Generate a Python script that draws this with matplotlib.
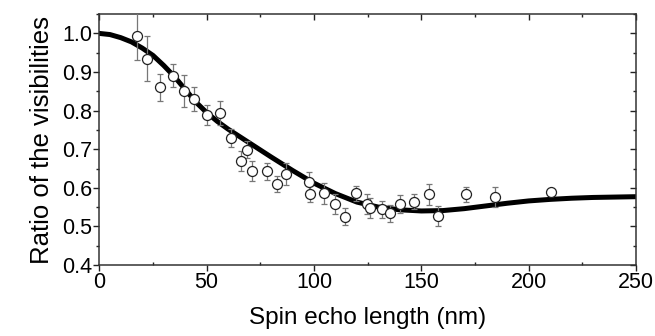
import matplotlib
matplotlib.use("Agg")
import matplotlib.pyplot as plt
from matplotlib.ticker import MultipleLocator

plt.rcParams['font.family'] = ['Liberation Sans', 'DejaVu Sans']

# measured data
spin_echo = [17.4, 22.3, 28.1, 34.3, 39.3, 44.1, 50.0, 56.0, 61.5, 65.8, 68.6,
             71.2, 77.9, 82.6, 86.9, 97.8, 98.1, 104.8, 109.7, 114.4, 119.8,
             124.8, 126.0, 131.5, 135.3, 140.3, 146.5, 153.8, 157.7, 170.6,
             184.4, 210.3]
ratio = [0.992, 0.935, 0.860, 0.890, 0.851, 0.830, 0.788, 0.794, 0.729, 0.669,
         0.699, 0.643, 0.643, 0.609, 0.635, 0.615, 0.584, 0.586, 0.558, 0.525,
         0.586, 0.557, 0.547, 0.544, 0.534, 0.558, 0.564, 0.583, 0.527, 0.583,
         0.575, 0.590]
ratio_err = [0.060, 0.058, 0.034, 0.030, 0.042, 0.032, 0.026, 0.030, 0.023,
             0.026, 0.021, 0.026, 0.022, 0.021, 0.028, 0.027, 0.021, 0.027,
             0.026, 0.022, 0.019, 0.026, 0.026, 0.022, 0.022, 0.024, 0.020,
             0.028, 0.025, 0.019, 0.026, 0.008]

# fit curve
fit_x = [0, 5, 10, 15, 20, 25, 30, 35, 40, 45, 50, 55, 60, 70, 80, 90, 100,
         110, 120, 130, 140, 150, 160, 170, 180, 190, 200, 210, 220, 230, 240, 250]
fit_y = [1.000, 0.997, 0.989, 0.978, 0.962, 0.943, 0.917, 0.888, 0.855, 0.822,
         0.795, 0.772, 0.752, 0.716, 0.680, 0.645, 0.612, 0.585, 0.563, 0.550,
         0.543, 0.540, 0.541, 0.546, 0.553, 0.560, 0.566, 0.570, 0.573, 0.575,
         0.576, 0.577]

fig = plt.figure(figsize=(6.55, 3.36), dpi=100)
ax = fig.add_axes([0.1516, 0.2113, 0.8194, 0.7467])

ax.plot(fit_x, fit_y, color='black', lw=3.6, solid_capstyle='round', zorder=2)
ax.errorbar(spin_echo, ratio, yerr=ratio_err, fmt='o', ms=7.2, mfc='white',
            mec='#222222', mew=0.9, ecolor='#777777', elinewidth=0.9,
            capsize=2.5, capthick=0.9, zorder=3)

ax.set_xlim(0, 250)
ax.set_ylim(0.4, 1.05)
ax.xaxis.set_major_locator(MultipleLocator(50))
ax.xaxis.set_minor_locator(MultipleLocator(25))
ax.yaxis.set_major_locator(MultipleLocator(0.1))
ax.yaxis.set_minor_locator(MultipleLocator(0.05))
ax.set_yticks([0.4, 0.5, 0.6, 0.7, 0.8, 0.9, 1.0])
ax.set_yticklabels(['0.4', '0.5', '0.6', '0.7', '0.8', '0.9', '1.0'])

ax.tick_params(which='major', direction='out', length=4, width=1,
               labelsize=15.5, colors='#222222', labelcolor='black', pad=1)
ax.tick_params(which='minor', direction='out', length=2.5, width=1,
               colors='#222222')
ax.tick_params(axis='x', which='minor', direction='in')

# top / right ticks inward via secondary axes
secx = ax.secondary_xaxis('top')
secx.xaxis.set_major_locator(MultipleLocator(50))
secx.xaxis.set_minor_locator(MultipleLocator(25))
secx.tick_params(which='both', direction='in', labeltop=False, colors='#222222')
secx.tick_params(which='major', length=4, width=1)
secx.tick_params(which='minor', length=2.5, width=1)
secx.spines['top'].set_visible(False)
secy = ax.secondary_yaxis('right')
secy.yaxis.set_major_locator(MultipleLocator(0.1))
secy.yaxis.set_minor_locator(MultipleLocator(0.05))
secy.tick_params(which='both', direction='in', labelright=False, colors='#222222')
secy.tick_params(which='major', length=4, width=1)
secy.tick_params(which='minor', length=2.5, width=1)
secy.spines['right'].set_visible(False)

for s in ax.spines.values():
    s.set_linewidth(1.1)
    s.set_color('#333333')

ax.set_xlabel('Spin echo length (nm)', fontsize=17.5, labelpad=10)
ax.set_ylabel('Ratio of the visibilities', fontsize=18.5, labelpad=6)

fig.savefig('out.png', dpi=100)
